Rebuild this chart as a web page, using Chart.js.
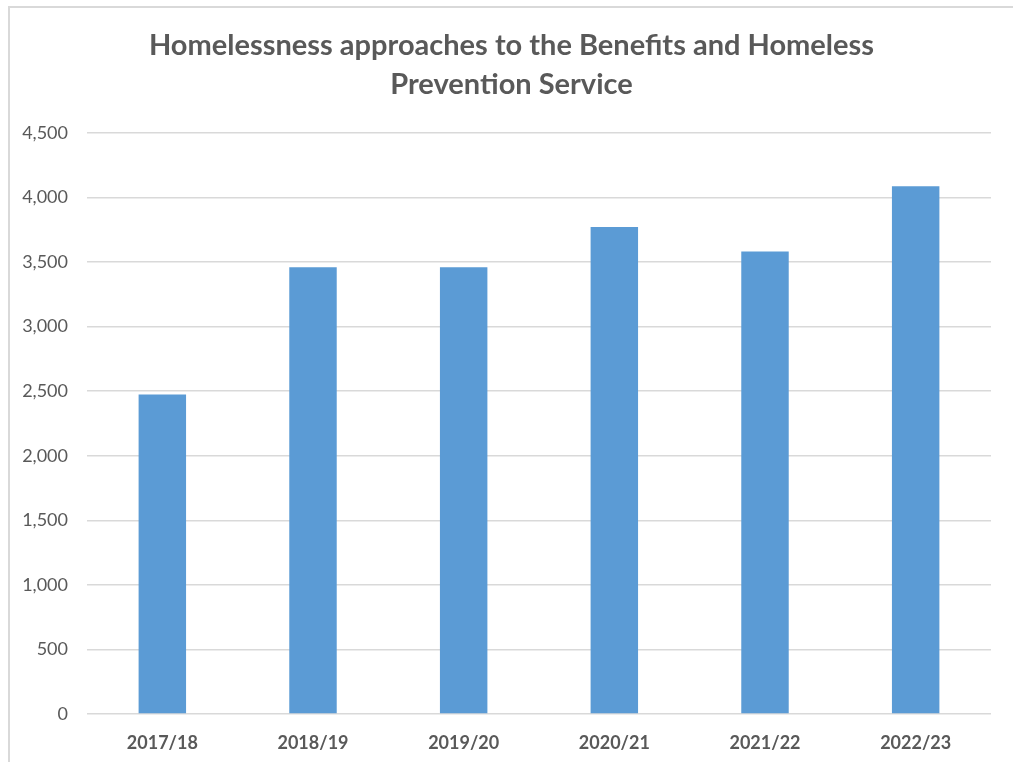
<!DOCTYPE html>
<html>
<head>
<meta charset="utf-8">
<script src="https://cdn.jsdelivr.net/npm/chart.js@4/dist/chart.umd.min.js"></script>
<style>
    html, body { margin: 0; padding: 0; background: #fff; }
    #wrap { position: relative; width: 1013px; height: 762px; overflow: hidden; }
    #frame { position: absolute; left: 8px; top: 6px; width: 1100px; height: 900px;
             border-left: 2px solid #d9d9d9; border-top: 2px solid #d9d9d9; }
    #chart { position: absolute; left: 0; top: 0; }
</style>
</head>
<body>
<div id="wrap">
    <div id="frame"></div>
    <canvas id="chart" width="1013" height="762"></canvas>
</div>
<script>
// Data
const years = ['2017/18', '2018/19', '2019/20', '2020/21', '2021/22', '2022/23'];
const approaches = [2475, 3460, 3460, 3772, 3583, 4087];
const yTicks = [0, 500, 1000, 1500, 2000, 2500, 3000, 3500, 4000, 4500];
const chartTitle = ['Homelessness approaches to the Benefits and Homeless', 'Prevention Service'];

// title is centred on the whole frame in the original, not just left of the padding
const shiftTitle = {
    id: 'shiftTitle',
    afterLayout: function(chart) {
        if (chart.titleBlock) {
            chart.titleBlock.left = 32;
        }
    }
};

document.addEventListener('DOMContentLoaded', function() {
    const ctx = document.getElementById('chart').getContext('2d');
    new Chart(ctx, {
        type: 'bar',
        data: {
            labels: years,
            datasets: [{
                label: 'Approaches',
                data: approaches,
                backgroundColor: '#5b9bd5',
                borderWidth: 0,
                barPercentage: 1,
                categoryPercentage: 0.315
            }]
        },
        options: {
            responsive: false,
            animation: false,
            layout: { padding: { left: 0, right: 22, top: 0, bottom: 10 } },
            plugins: {
                legend: { display: false },
                tooltip: { enabled: false },
                title: {
                    display: true,
                    text: chartTitle,
                    color: '#595959',
                    font: { family: 'Lato', size: 29, weight: 'bold', lineHeight: 1.345 },
                    padding: { top: 26, bottom: 29 }
                }
            },
            scales: {
                x: {
                    afterFit: function(scale) { scale.height = 38; },
                    grid: { display: false, drawTicks: false },
                    border: { display: false },
                    ticks: { color: '#595959', padding: 18, font: { family: 'Lato', size: 18, weight: 'bold' } }
                },
                y: {
                    min: 0,
                    max: 4500,
                    afterFit: function(scale) { scale.width = 87; },
                    afterBuildTicks: function(scale) { scale.ticks = yTicks.map(v => ({ value: v })); },
                    grid: { color: '#d9d9d9', lineWidth: 1.5, drawTicks: false },
                    border: { display: false },
                    ticks: {
                        color: '#595959',
                        padding: 19,
                        font: { family: 'Lato', size: 18 },
                        callback: function(v) { return v.toLocaleString('en-GB'); }
                    }
                }
            }
        },
        plugins: [shiftTitle]
    });
});
</script>
</body>
</html>
